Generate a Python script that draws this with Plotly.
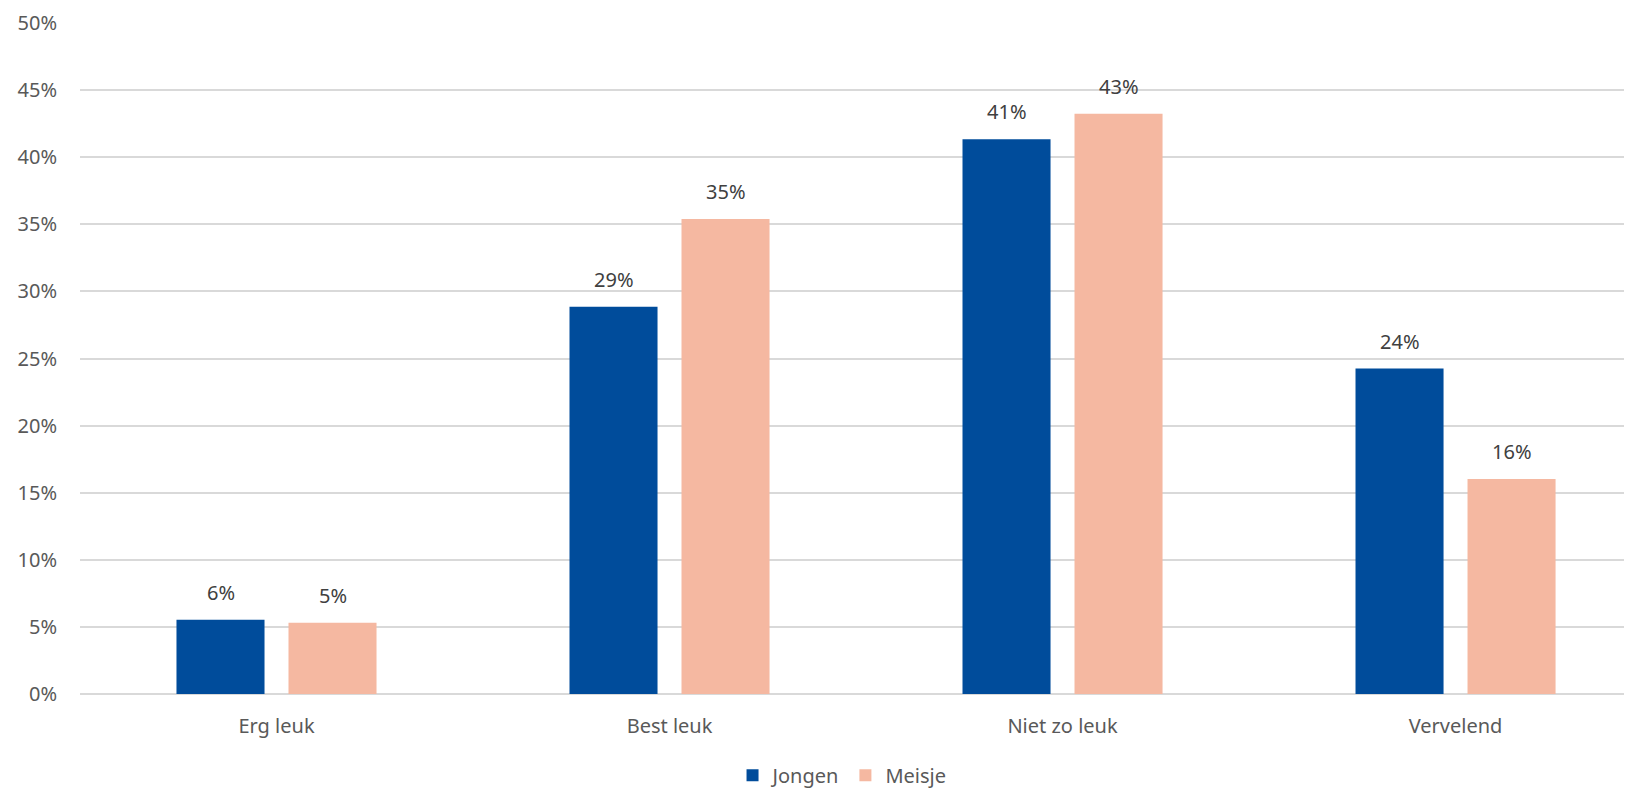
import plotly.graph_objects as go

categories = ["Erg leuk", "Best leuk", "Niet zo leuk", "Vervelend"]
jongen = [5.53, 28.86, 41.33, 24.25]
meisje = [5.31, 35.39, 43.24, 16.02]
series_names = ["Jongen", "Meisje"]
colors = ["#004C9B", "#F5B8A1"]
y_ticks = [0, 5, 10, 15, 20, 25, 30, 35, 40, 45, 50]
y_tick_labels = [f"{v}%" for v in y_ticks]

FONT = "'Noto Sans', 'Open Sans', sans-serif"

# figure sits 8px inside the page (body margin), so size/margins compensate
W, H = 1624, 782
ML, MR, MT, MB = 72, 0, 15, 96
BARGAP, GROUPGAP = 0.43, 0.214
X_RANGE = [-0.5, 3.449]

fig = go.Figure()
for name, vals, col in zip(series_names, [jongen, meisje], colors):
    fig.add_trace(go.Bar(
        name=name, x=categories, y=vals,
        marker=dict(color=col, line=dict(width=0)),
    ))

# data labels above each bar, shifted to each bar's slot within the group
plot_w = W - ML - MR
cat_px = plot_w / (X_RANGE[1] - X_RANGE[0])
slot_px = cat_px * (1 - BARGAP) / len(series_names)
for j, vals in enumerate([jongen, meisje]):
    shift = (j - (len(series_names) - 1) / 2) * slot_px
    for cat, v in zip(categories, vals):
        fig.add_annotation(
            x=cat, y=v, xref="x", yref="y", text=f"{round(v):.0f}%",
            showarrow=False, xshift=shift, yshift=12, yanchor="bottom",
            font=dict(family=FONT, size=20, color="#404040"),
        )

fig.update_layout(
    width=W, height=H,
    margin=dict(l=ML, r=MR, t=MT, b=MB, autoexpand=False),
    paper_bgcolor="white", plot_bgcolor="white",
    barmode="group", bargap=BARGAP, bargroupgap=GROUPGAP,
    font=dict(family=FONT, size=20, color="#595959"),
    showlegend=True,
    legend=dict(orientation="h", x=0.491, xanchor="center", y=-0.121, yanchor="middle",
                font=dict(family=FONT, size=20, color="#595959"),
                itemwidth=30, traceorder="normal"),
)
fig.update_xaxes(
    range=X_RANGE, showgrid=False, showline=False, ticks="",
    tickfont=dict(family=FONT, size=20, color="#595959"), ticklabelstandoff=18,
)
fig.update_yaxes(
    range=[0, 50], tickvals=y_ticks, ticktext=y_tick_labels,
    showgrid=True, gridcolor="#D9D9D9", gridwidth=1.5,
    zeroline=True, zerolinecolor="#D9D9D9", zerolinewidth=1.5,
    showline=False, ticks="", ticklabelstandoff=22,
    tickfont=dict(family=FONT, size=20, color="#595959"),
)

fig.write_html("out.html")
